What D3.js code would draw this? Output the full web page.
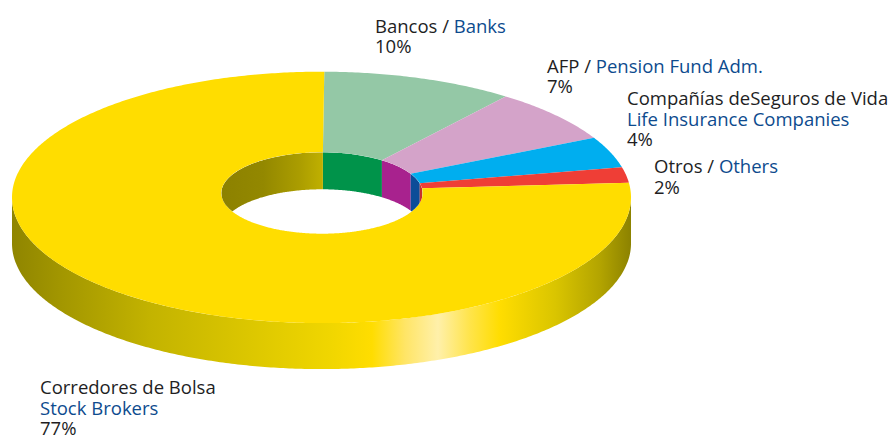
<!DOCTYPE html>
<html>
<head>
<meta charset="utf-8">
<script src="https://cdn.jsdelivr.net/npm/d3@7"></script>
<style>
  body { margin: 0; background: #fff; }
  svg { display: block; }
  text { font-family: "Open Sans", "Noto Sans", sans-serif; font-size: 18.5px; }
</style>
</head>
<body>
<svg id="chart" width="895" height="436"></svg>
<script>
// Shares by holder type, clockwise from the top of the ring
const categoriesEs = ["Bancos", "AFP", "Compañías deSeguros de Vida", "Otros", "Corredores de Bolsa"];
const categoriesEn = ["Banks", "Pension Fund Adm.", "Life Insurance Companies", "Others", "Stock Brokers"];
const shares = [10, 7, 4, 2, 77];

// Face colours and the darker tones of the inner wall
const topColors = ["#94c8a6", "#d4a3c9", "#00aeef", "#ef3e36", "#ffdd00"];
const wallColors = ["#00934a", "#a8228e", "#0c4d98", "#c9302b", "url(#holeGrad)"];

const inkDark = "#221e1f";
const inkBlue = "#0d4b8e";

const svg = d3.select("#chart");

// Ring geometry (elliptical projection of a tilted ring)
const outer = { cx: 321.5, cy: 197.4, rx: 309.5, ry: 125.7, depth: 46 };
const inner = { cx: 322, cy: 193, rx: 100.7, ry: 40.7, depth: 37 };

const start = 0.009;
const pie = d3.pie().sort(null).value(d => d)
  .startAngle(start).endAngle(start + 2 * Math.PI);
const arcs = pie(shares);

function pt(e, t, dy = 0) {
  return [e.cx + e.rx * Math.sin(t), e.cy - e.ry * Math.cos(t) + dy];
}
function arcPts(e, a0, a1, dy = 0) {
  const n = Math.max(2, Math.ceil(Math.abs(a1 - a0) / 0.01));
  return d3.range(n + 1).map(i => pt(e, a0 + (a1 - a0) * i / n, dy));
}
const poly = pts => d3.line()(pts) + "Z";

// Parts of [a0,a1] that fall inside a given angular window (repeated every turn)
function overlap(a0, a1, w0, w1) {
  const out = [];
  for (let k = -1; k <= 1; k++) {
    const lo = Math.max(a0, w0 + 2 * Math.PI * k);
    const hi = Math.min(a1, w1 + 2 * Math.PI * k);
    if (hi > lo) out.push([lo, hi]);
  }
  return out;
}

const defs = svg.append("defs");

// Shading of the outer rim, dark at both ends with a highlight at the front right
const sideGrad = defs.append("linearGradient")
  .attr("id", "sideGrad").attr("gradientUnits", "userSpaceOnUse")
  .attr("x1", outer.cx - outer.rx).attr("x2", outer.cx + outer.rx)
  .attr("y1", 0).attr("y2", 0);
const sideStops = [
  [12, "#8f8500"], [60, "#a29600"], [150, "#c3b300"], [250, "#dcc700"],
  [330, "#f0d600"], [372, "#ffdd00"], [405, "#ffe566"], [438, "#fff0aa"],
  [470, "#ffe44a"], [500, "#ffdd00"], [555, "#dac500"], [600, "#b3a400"], [631, "#8c8200"]
];
sideGrad.selectAll("stop").data(sideStops).join("stop")
  .attr("offset", d => (d[0] - (outer.cx - outer.rx)) / (2 * outer.rx))
  .attr("stop-color", d => d[1]);

// Shading of the yellow part of the inner wall
const holeGrad = defs.append("linearGradient")
  .attr("id", "holeGrad").attr("gradientUnits", "userSpaceOnUse")
  .attr("x1", inner.cx - inner.rx).attr("x2", inner.cx + 4)
  .attr("y1", 0).attr("y2", 0);
holeGrad.selectAll("stop").data([[0, "#8c8100"], [0.4, "#938800"], [0.75, "#ab9d00"], [1, "#c3b300"]])
  .join("stop").attr("offset", d => d[0]).attr("stop-color", d => d[1]);

defs.append("clipPath").attr("id", "holeClip")
  .append("ellipse")
  .attr("cx", inner.cx).attr("cy", inner.cy)
  .attr("rx", inner.rx).attr("ry", inner.ry);

// Outer rim: front half only
const sideG = svg.append("g");
arcs.forEach((a, i) => {
  overlap(a.startAngle, a.endAngle, Math.PI / 2, 3 * Math.PI / 2).forEach(([lo, hi]) => {
    const pts = arcPts(outer, lo, hi).concat(arcPts(outer, hi, lo, outer.depth));
    sideG.append("path").attr("d", poly(pts))
      .attr("fill", i === arcs.length - 1 ? "url(#sideGrad)" : wallColors[i]);
  });
});

// Top faces
svg.append("g").selectAll("path").data(arcs).join("path")
  .attr("d", a => poly(arcPts(outer, a.startAngle, a.endAngle)
    .concat(arcPts(inner, a.endAngle, a.startAngle))))
  .attr("fill", (a, i) => topColors[i]);

// Inner wall: back half, seen through the hole
const wallG = svg.append("g").attr("clip-path", "url(#holeClip)");
arcs.forEach((a, i) => {
  overlap(a.startAngle, a.endAngle, -Math.PI / 2, Math.PI / 2).forEach(([lo, hi]) => {
    const pts = arcPts(inner, lo, hi).concat(arcPts(inner, hi, lo, inner.depth));
    wallG.append("path").attr("d", poly(pts)).attr("fill", wallColors[i]);
  });
});

// Labels
const lineH = 20.6;
const labelLayout = [
  { x: 375, y: 32.7, stacked: false },
  { x: 547, y: 72.7, stacked: false },
  { x: 627, y: 105, stacked: true },
  { x: 654, y: 173.3, stacked: false },
  { x: 40, y: 394, stacked: true }
];

const labels = svg.append("g");
shares.forEach((v, i) => {
  const L = labelLayout[i];
  const t = labels.append("text").attr("x", L.x).attr("y", L.y);
  let row = 0;
  if (L.stacked) {
    t.append("tspan").attr("x", L.x).attr("fill", inkDark).text(categoriesEs[i]);
    row++;
    t.append("tspan").attr("x", L.x).attr("y", L.y + lineH * row).attr("fill", inkBlue).text(categoriesEn[i]);
  } else {
    t.append("tspan").attr("x", L.x).attr("fill", inkDark).text(categoriesEs[i] + " / ");
    t.append("tspan").attr("fill", inkBlue).text(categoriesEn[i]);
  }
  row++;
  t.append("tspan").attr("x", L.x).attr("y", L.y + lineH * row).attr("fill", inkDark).text(v + "%");
});
</script>
</body>
</html>
